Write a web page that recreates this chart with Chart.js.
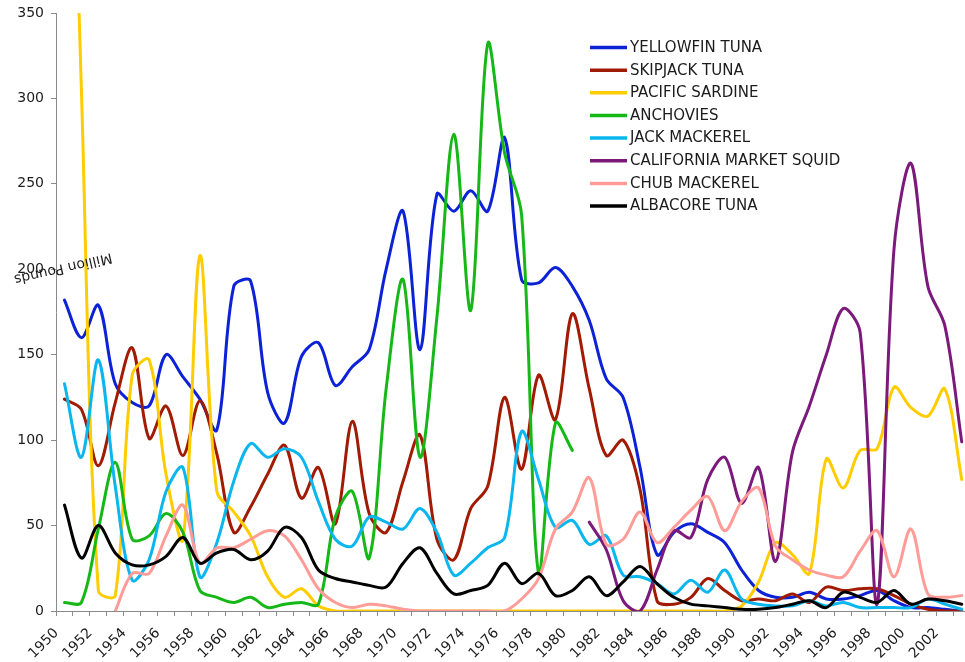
<!DOCTYPE html>
<html>
<head>
<meta charset="utf-8">
<title>California commercial landings</title>
<script src="https://cdn.jsdelivr.net/npm/chart.js@4.4.1/dist/chart.umd.min.js"></script>
<style>
  html, body { margin: 0; padding: 0; background: #ffffff; overflow: hidden; }
  #wrap { width: 980px; height: 662px; }
  canvas { display: block; }
</style>
</head>
<body>
<div id="wrap"><canvas id="landings" width="980" height="662"></canvas></div>
<script>
// Annual landings, million pounds, 1950-2003
const years = [];
for (let y = 1950; y <= 2003; y++) years.push(String(y));

const yellowfinTuna = [182,160,179,133,122,120,150,137,124,106,190,193,128,110,149,157,132,143,153,200,
  234,153,244,234,246,234,277,194,192,201,190,170,136,125,84,33,46,51,46,40,
  24,12,8,8,11,7,7,9,12,6,2,2,1,0];

const skipjackTuna = [124,118,85,122,154,101,120,91,123,92,46,61,80,97,66,84,51,111,57,46,
  76,103,42,30,60,73,125,83,138,112,174,130,91,100,71,6,4,8,19,12,
  6,7,6,10,5,14,12,13,13,9,4,1,0,0];

const pacificSardine = [640,305,12,9,138,147,80,42,208,70,58,44,20,8,13,3,0,0,0,0,
  0,0,0,0,0,0,0,0,0,0,0,0,0,0,0,0,0,0,0,0,
  3,17,40,33,22,89,72,94,95,131,119,114,130,77];

const anchovies = [5,5,48,87,42,44,57,46,12,8,5,8,2,4,5,4,55,70,31,130,
  194,90,172,279,176,332,268,232,22,110,94,null,null,null,null,null,null,null,null,null,
  null,null,null,null,null,null,null,null,null,null,null,null,null,null];

const jackMackerel = [133,90,147,73,18,30,70,84,20,40,76,98,90,95,90,64,42,38,55,52,
  48,60,46,21,28,37,43,105,77,49,53,39,44,21,20,16,10,18,11,24,
  7,4,3,3,6,3,5,2,2,2,2,7,4,1];

const marketSquid = [null,null,null,null,null,null,null,null,null,null,null,null,null,null,null,null,null,null,null,null,
  null,null,null,null,null,null,null,null,null,null,null,52,36,6,0,24,47,43,77,90,
  63,84,29,93,120,150,177,163,4,212,262,190,167,99];

const chubMackerel = [null,null,null,0,22,22,44,62,28,37,37,42,47,44,30,13,5,2,4,3,
  1,0,0,0,0,0,0,7,19,48,58,78,39,42,58,40,49,59,67,47,
  64,72,38,30,24,21,20,35,47,20,48,10,8,9];

const albacoreTuna = [62,31,50,34,27,27,32,43,28,34,36,30,35,49,43,24,19,17,15,14,
  28,37,22,10,12,15,28,16,22,9,12,20,9,17,26,16,8,4,3,2,
  1,1,2,4,6,2,11,8,5,12,4,7,6,4];

const seriesNames = ['YELLOWFIN TUNA','SKIPJACK TUNA','PACIFIC SARDINE','ANCHOVIES',
  'JACK MACKEREL','CALIFORNIA MARKET SQUID','CHUB MACKEREL','ALBACORE TUNA'];
const seriesValues = [yellowfinTuna, skipjackTuna, pacificSardine, anchovies,
  jackMackerel, marketSquid, chubMackerel, albacoreTuna];
const seriesColors = ['#0c22d6','#a11a02','#ffcc00','#16b818','#0ab6ee','#7b1a7b','#ff9c98','#000000'];

const yTicks = [0, 50, 100, 150, 200, 250, 300, 350];

const FONT = '"DejaVu Sans", Verdana, sans-serif';
const AXIS_GREY = '#8a8a8a';
const TEXT = '#1c1c1c';

// Legend drawn inside the plot, top right
const speciesLegend = {
  id: 'speciesLegend',
  afterDraw(chart) {
    const ctx = chart.ctx;
    ctx.save();
    ctx.font = '15px ' + FONT;
    ctx.textBaseline = 'middle';
    ctx.textAlign = 'left';
    chart.data.datasets.forEach((ds, i) => {
      const y = 47.5 + i * 22.65;
      ctx.strokeStyle = ds.borderColor;
      ctx.lineWidth = 3.5;
      ctx.lineCap = 'butt';
      ctx.beginPath();
      ctx.moveTo(590, y);
      ctx.lineTo(627, y);
      ctx.stroke();
      ctx.fillStyle = TEXT;
      ctx.fillText(ds.label, 630, y + 0.5);
    });
    ctx.restore();
  }
};

// Value-axis caption, drawn tilted and upside down
const axisCaption = {
  id: 'axisCaption',
  afterDraw(chart) {
    const ctx = chart.ctx;
    ctx.save();
    ctx.translate(63, 268);
    ctx.rotate(167 * Math.PI / 180);
    ctx.font = '14px ' + FONT;
    ctx.fillStyle = TEXT;
    ctx.textAlign = 'center';
    ctx.textBaseline = 'middle';
    ctx.fillText('Million Pounds', 0, 0);
    ctx.restore();
  }
};

const datasets = seriesNames.map((name, i) => ({
  label: name,
  data: seriesValues[i],
  borderColor: seriesColors[i],
  backgroundColor: seriesColors[i],
  borderWidth: 3,
  pointRadius: 0,
  pointHoverRadius: 0,
  tension: 0.33,
  fill: false,
  spanGaps: false,
  order: seriesNames.length - i
}));

new Chart(document.getElementById('landings'), {
  type: 'line',
  data: { labels: years, datasets },
  plugins: [speciesLegend, axisCaption],
  options: {
    responsive: false,
    animation: false,
    devicePixelRatio: 1,
    layout: { padding: { top: 13, right: 9.8, bottom: 0, left: 0 } },
    elements: { line: { capBezierPoints: false, borderJoinStyle: 'round', borderCapStyle: 'round' } },
    plugins: {
      legend: { display: false },
      tooltip: { enabled: false },
      title: { display: false }
    },
    scales: {
      x: {
        type: 'category',
        offset: true,
        grid: { offset: true, drawOnChartArea: false, drawTicks: true, tickLength: 5, color: AXIS_GREY },
        border: { display: true, color: AXIS_GREY, width: 1 },
        ticks: {
          autoSkip: false,
          maxRotation: 45,
          minRotation: 45,
          padding: 9,
          labelOffset: -8,
          color: TEXT,
          font: { family: FONT, size: 14 },
          callback(value, index) { return index % 2 === 0 ? this.getLabelForValue(value) : ''; }
        },
        afterFit(scale) {
          scale.height = 51;
          scale.paddingLeft = 0;
          scale.paddingRight = 0;
        }
      },
      y: {
        min: yTicks[0],
        max: yTicks[yTicks.length - 1],
        afterBuildTicks(scale) { scale.ticks = yTicks.map(v => ({ value: v })); },
        grid: { drawOnChartArea: false, drawTicks: true, tickLength: 5, color: AXIS_GREY },
        border: { display: true, color: AXIS_GREY, width: 1 },
        ticks: { padding: 7, color: TEXT, font: { family: FONT, size: 14 } },
        afterFit(scale) {
          scale.width = 56;
          scale.paddingTop = 0;
          scale.paddingBottom = 0;
        }
      }
    }
  }
});
</script>
</body>
</html>
